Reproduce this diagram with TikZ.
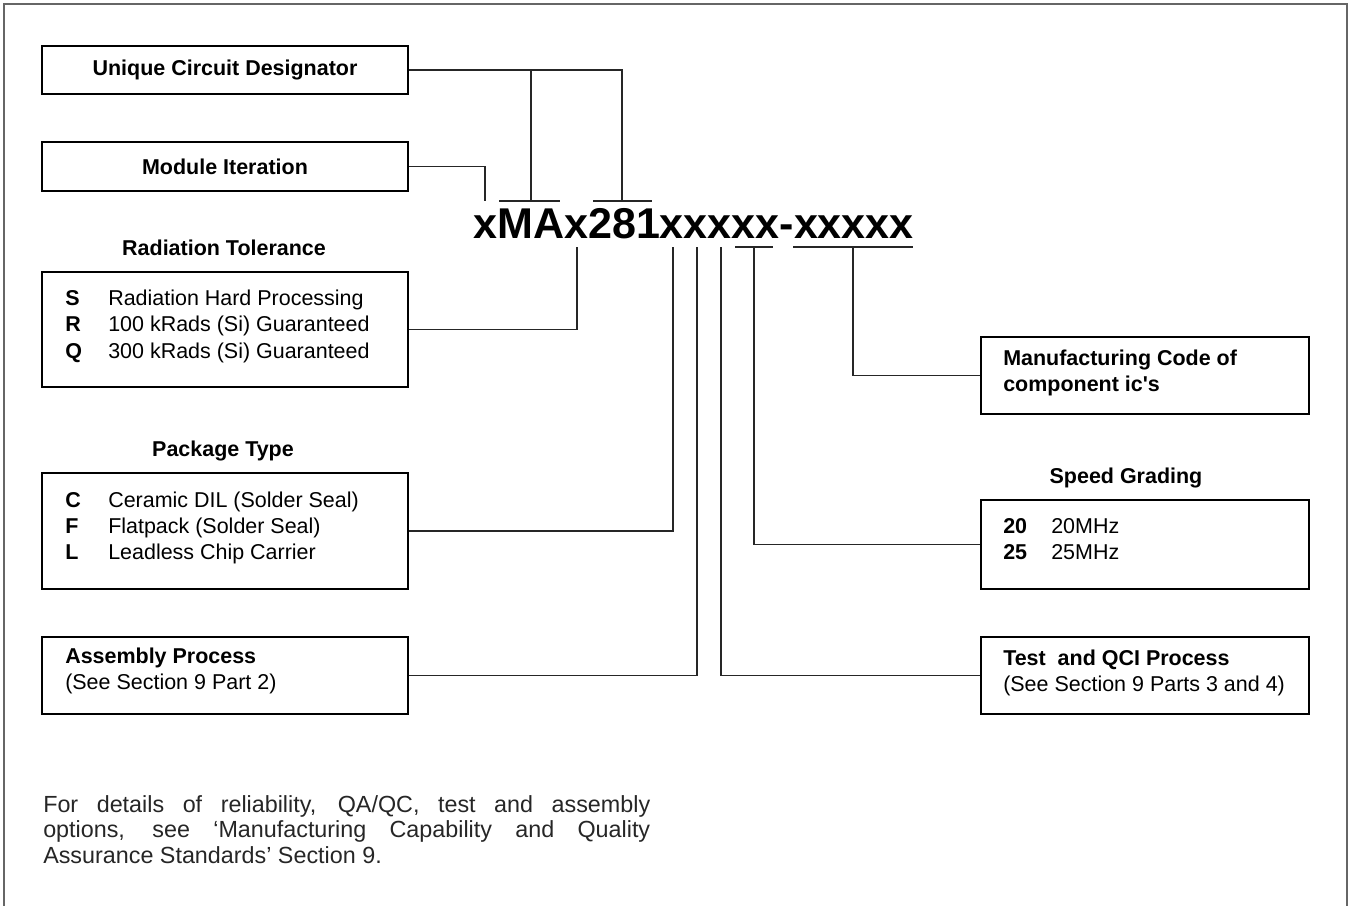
\documentclass[tikz,border=0pt]{standalone}
\usepackage{fontspec}
\newfontfamily\arialfont{Liberation Sans}
\usetikzlibrary{positioning}

\begin{document}
\begin{tikzpicture}[x=0.75pt, y=-0.75pt, font=\arialfont,
    box/.style={draw, line width=1.5pt, inner sep=0pt, anchor=north west},
    leftbox/.style={box, minimum width=274.5pt},
    rightbox/.style={box, minimum width=246pt},
    plain/.style={inner sep=0pt, anchor=base west, font=\arialfont\fontsize{16.1}{19}\selectfont},
    heavy/.style={plain, font=\arialfont\fontsize{16.1}{19}\selectfont\bfseries},
    heading/.style={heavy, anchor=base},
    link/.style={line width=0.8pt, black!85}]
    \clip (0,0) rectangle (1350,906);
    \draw[line width=1pt, black!60] (4,4) rectangle (1347,960);

    \node[leftbox, minimum height=36pt, font=\arialfont\fontsize{16.1}{19}\selectfont\bfseries] (ucd) at (41,45) {Unique Circuit Designator};
    \node[leftbox, minimum height=36.75pt, font=\arialfont\fontsize{16.1}{19}\selectfont\bfseries] (mod) at (41,141) {Module Iteration};

    \node[heading] (radtitle) at (224,255) {Radiation Tolerance};
    \node[leftbox, minimum height=86.25pt] (rad) at (41,271) {};
    \foreach \k/\d [count=\i] in {S/Radiation Hard Processing, R/100 kRads (Si) Guaranteed, Q/300 kRads (Si) Guaranteed} {
        \node[heavy] (radkey\i) at (65,{278.5+26.5*\i}) {\k};
        \node[plain] (radtxt\i) at (108,{278.5+26.5*\i}) {\d};
    }

    \node[heading] (pkgtitle) at (223,456) {Package Type};
    \node[leftbox, minimum height=87pt] (pkg) at (41,472) {};
    \foreach \k/\d [count=\i] in {C/Ceramic DIL (Solder Seal), F/Flatpack (Solder Seal), L/Leadless Chip Carrier} {
        \node[heavy] (pkgkey\i) at (65,{481+26*\i}) {\k};
        \node[plain] (pkgtxt\i) at (108,{481+26*\i}) {\d};
    }

    \node[leftbox, minimum height=57.75pt] (asm) at (41,636) {};
    \node[heavy] (asmtxt1) at (65,663) {Assembly Process};
    \node[plain] (asmtxt2) at (65,689) {(See Section 9 Part 2)};

    \node[rightbox, minimum height=57.75pt] (mfg) at (980,336) {};
    \node[heavy] (mfgtxt1) at (1003,365) {Manufacturing Code of};
    \node[heavy] (mfgtxt2) at (1003,391) {component ic's};

    \node[heading] (spdtitle) at (1126,483) {Speed Grading};
    \node[rightbox, minimum height=66.75pt] (spd) at (980,499) {};
    \foreach \k [count=\i] in {20, 25} {
        \node[heavy] (spdkey\i) at (1003,{507+26*\i}) {\k};
        \node[plain] (spdtxt\i) at (1051,{507+26*\i}) {\k MHz};
    }

    \node[rightbox, minimum height=57.75pt] (tst) at (980,636) {};
    \node[heavy] (tsttxt1) at (1003,665) {Test\ \ and QCI Process};
    \node[plain] (tsttxt2) at (1003,691) {(See Section 9 Parts 3 and 4)};

    \node[inner sep=0pt, anchor=base west, font=\arialfont\fontsize{32.3}{36}\selectfont\bfseries] (part) at (473,238) {xMAx281xxxxx-xxxxx};

    \node[inner sep=0pt, anchor=north west, text width=455.25pt, align=justify, text=black!85,
        font=\arialfont\fontsize{17.5}{19.1}\selectfont] (note) at (43,795)
        {For details of reliability, QA/QC, test and assembly\linebreak options, see ‘Manufacturing Capability and Quality\linebreak Assurance Standards’ Section 9.};

    \coordinate (tmod) at (485,201);
    \coordinate (tucda) at (531,201);
    \coordinate (tucdb) at (622,201);
    \coordinate (trad) at (577,247);
    \coordinate (tpkg) at (673,247);
    \coordinate (tasm) at (697,247);
    \coordinate (ttst) at (721,247);
    \coordinate (tspd) at (754,247);
    \coordinate (tmfg) at (853,247);

    \draw[link] (499,201) -- (560,201);
    \draw[link] (593,201) -- (652,201);
    \draw[link] (735,247) -- (773,247);
    \draw[link] (793,247) -- (913,247);

    \draw[link] (ucd.east) -| (tucdb);
    \draw[link] (tucda) -- (tucda |- ucd.east);
    \draw[link] (mod.east) -| (tmod);
    \draw[link] (rad.east) -| (trad);
    \draw[link] (pkg.east) -| (tpkg);
    \draw[link] (asm.east) -| (tasm);
    \draw[link] (tst.west) -| (ttst);
    \draw[link] (spd.west) -| (tspd);
    \draw[link] (mfg.west) -| (tmfg);
\end{tikzpicture}
\end{document}
